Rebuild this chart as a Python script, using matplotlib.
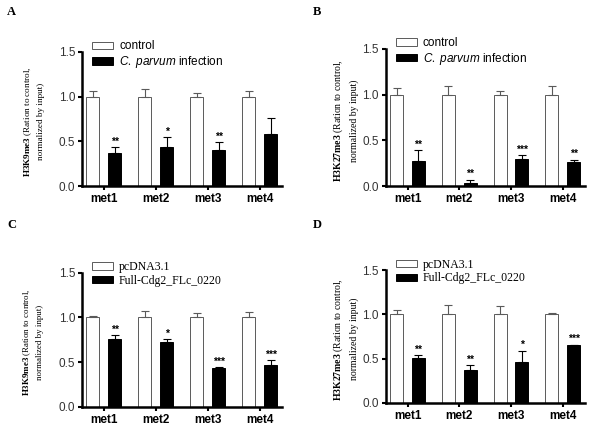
import matplotlib.pyplot as plt
import numpy as np

plt.rcParams['mathtext.fontset'] = 'custom'
plt.rcParams['mathtext.rm'] = 'Liberation Serif'
plt.rcParams['mathtext.bf'] = 'Liberation Serif:bold'
plt.rcParams['mathtext.it'] = 'Liberation Sans:italic'

categories = ["met1", "met2", "met3", "met4"]

# panel A: H3K9me3, infection
a_ctrl = [1.0, 1.0, 1.0, 1.0]
a_ctrl_err = [0.06, 0.09, 0.04, 0.06]
a_trt = [0.37, 0.44, 0.40, 0.58]
a_trt_err = [0.07, 0.11, 0.09, 0.18]
a_stars = ["**", "*", "**", ""]

# panel B: H3K27me3, infection
b_ctrl = [1.0, 1.0, 1.0, 1.0]
b_ctrl_err = [0.07, 0.10, 0.04, 0.09]
b_trt = [0.27, 0.03, 0.30, 0.26]
b_trt_err = [0.12, 0.04, 0.04, 0.03]
b_stars = ["**", "**", "***", "**"]

# panel C: H3K9me3, overexpression
c_ctrl = [1.0, 1.0, 1.0, 1.0]
c_ctrl_err = [0.01, 0.07, 0.05, 0.06]
c_trt = [0.76, 0.72, 0.43, 0.47]
c_trt_err = [0.04, 0.04, 0.01, 0.05]
c_stars = ["**", "*", "***", "***"]

# panel D: H3K27me3, overexpression
d_ctrl = [1.0, 1.0, 1.0, 1.0]
d_ctrl_err = [0.05, 0.11, 0.10, 0.02]
d_trt = [0.51, 0.37, 0.46, 0.65]
d_trt_err = [0.03, 0.06, 0.13, 0.01]
d_stars = ["**", "**", "*", "***"]

legend_ab = ["control", r"$\it{C.\ parvum}$ infection"]
legend_cd = ["pcDNA3.1", "Full-Cdg2_FLc_0220"]

SANS = "Liberation Sans"
SERIF = "Liberation Serif"
EDGE = "#5a5a5a"

fig = plt.figure(figsize=(6.03, 4.26), dpi=100)
fig.patch.set_facecolor("white")


def panel(rect, ctrl, ctrl_err, trt, trt_err, stars, mark, labels, leg_font,
          letter, letter_xy, ylab_size, ylab_x):
    ax = fig.add_axes(rect)
    x = np.arange(len(categories))
    w = 0.25
    off = 0.21
    b1 = ax.bar(x - off, ctrl, w, color="white", edgecolor=EDGE, linewidth=0.7,
                yerr=[np.zeros(4), ctrl_err],
                error_kw=dict(ecolor=EDGE, elinewidth=0.8, capsize=3, capthick=0.8),
                label=labels[0])
    b2 = ax.bar(x + off, trt, w, color="black", edgecolor="black", linewidth=0.7,
                yerr=[np.zeros(4), trt_err],
                error_kw=dict(ecolor="black", elinewidth=0.8, capsize=3, capthick=0.8),
                label=labels[1])
    # significance marks above the treated bars
    for xi, v, e, s in zip(x, trt, trt_err, stars):
        if s:
            ax.text(xi + off, v + e + 0.005, s, ha="center", va="bottom",
                    fontsize=7.5, family=SANS, fontweight="bold")

    ax.set_xlim(-0.42, 3.43)
    ax.set_ylim(0, 1.5)
    ax.set_yticks([0.0, 0.5, 1.0, 1.5])
    ax.set_yticklabels(["0.0", "0.5", "1.0", "1.5"], family=SANS, fontsize=8.5, color="#333333")
    ax.set_xticks(x)
    ax.set_xticklabels(categories, family=SANS, fontsize=8.5, fontweight="bold")
    for sp in ["top", "right"]:
        ax.spines[sp].set_visible(False)
    for sp in ["left", "bottom"]:
        ax.spines[sp].set_linewidth(1.8)
    ax.tick_params(axis="both", length=3, width=1.5, pad=2)
    ax.set_ylabel(r"$\mathbf{" + mark + r"}$ (Ration to control," + "\nnormalized by input)",
                  family=SERIF, fontsize=ylab_size, linespacing=1.5, va="center")
    ax.yaxis.set_label_coords(ylab_x, 0.48)
    ax.legend(handles=[b1, b2], labels=labels, loc="upper left",
              bbox_to_anchor=(0.02, 1.13), frameon=False,
              prop=dict(family=leg_font, size=8.5), handlelength=1.8, handleheight=0.6,
              handletextpad=0.5, borderpad=0, labelspacing=0.15)
    fig.text(letter_xy[0], letter_xy[1], letter, family=SERIF, fontweight="bold",
             fontsize=9, ha="left", va="top")
    return ax


panel([0.136, 0.563, 0.332, 0.315], a_ctrl, a_ctrl_err, a_trt, a_trt_err, a_stars,
      "H3K9me3", legend_ab, SANS, "A", (0.012, 0.985), 6.6, -0.24)
panel([0.640, 0.563, 0.330, 0.322], b_ctrl, b_ctrl_err, b_trt, b_trt_err, b_stars,
      "H3K27me3", legend_ab, SANS, "B", (0.518, 0.985), 7.0, -0.205)
panel([0.136, 0.045, 0.332, 0.315], c_ctrl, c_ctrl_err, c_trt, c_trt_err, c_stars,
      "H3K9me3", legend_cd, SERIF, "C", (0.012, 0.487), 6.4, -0.245)
panel([0.640, 0.054, 0.330, 0.312], d_ctrl, d_ctrl_err, d_trt, d_trt_err, d_stars,
      "H3K27me3", legend_cd, SERIF, "D", (0.518, 0.487), 7.0, -0.205)

fig.savefig("out.png", dpi=100)
